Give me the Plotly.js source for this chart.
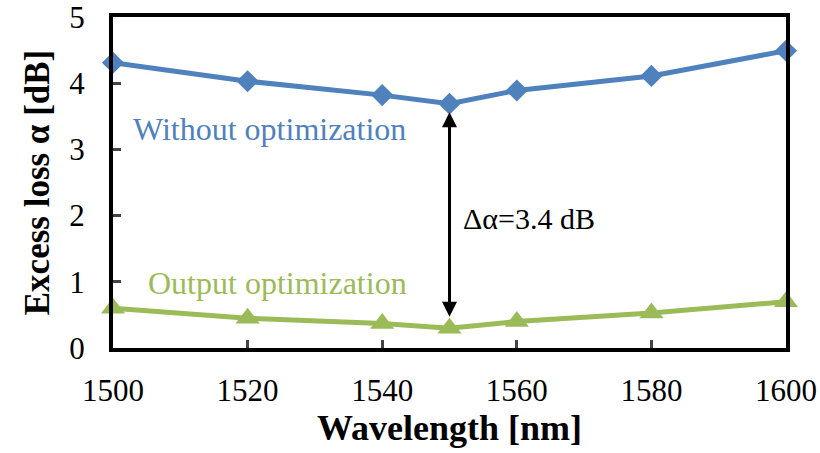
<!DOCTYPE html>
<html><head><meta charset="utf-8">
<script src="https://cdn.plot.ly/plotly-3.0.1.min.js"></script>
<style>html,body{margin:0;padding:0;background:#fff}</style>
</head><body><div id="chart" style="width:820px;height:453px"></div>
<script>
const wavelengths = [1500, 1520, 1540, 1550, 1560, 1580, 1600];
const withoutOpt = [4.31, 4.03, 3.82, 3.69, 3.89, 4.11, 4.49];
const outputOpt = [0.60, 0.45, 0.37, 0.30, 0.40, 0.53, 0.70];
const xTicks = [1500, 1520, 1540, 1560, 1580, 1600];
const yTicks = [0, 1, 2, 3, 4, 5];

const serif = "Liberation Serif, Times New Roman, serif";
const traces = [
  {x: wavelengths, y: withoutOpt, mode: 'lines+markers', cliponaxis: false,
   line: {color: '#4F81BD', width: 5}, marker: {symbol: 'diamond', size: 17, color: '#4F81BD'}},
  {x: wavelengths, y: outputOpt, mode: 'lines+markers', cliponaxis: false,
   line: {color: '#9BBB59', width: 5}, marker: {symbol: 'triangle-up', size: 21, color: '#9BBB59'}}
];
const layout = {
  width: 820, height: 453, showlegend: false,
  margin: {l: 113, r: 34, t: 17, b: 105},
  paper_bgcolor: '#fff', plot_bgcolor: '#fff',
  font: {family: serif, color: '#000', size: 22},
  xaxis: {range: [1500, 1600], tickvals: xTicks, ticks: 'inside', ticklen: 8, tickwidth: 3,
    showline: true, mirror: true, linewidth: 4, linecolor: '#000', showgrid: false, zeroline: false,
    tickfont: {family: serif, size: 31}, ticklabelstandoff: 12, ticklabeloverflow: 'allow',
    title: {text: '<b>Wavelength [nm]</b>', font: {family: serif, size: 36}, standoff: 8}},
  yaxis: {range: [0, 5], tickvals: yTicks, ticks: 'inside', ticklen: 8, tickwidth: 3,
    showline: true, mirror: true, linewidth: 4, linecolor: '#000', showgrid: false, zeroline: false,
    tickfont: {family: serif, size: 31}, ticklabelstandoff: 18, ticklabeloverflow: 'allow',
    title: {text: '<b>Excess loss α [dB]</b>', font: {family: serif, size: 35}, standoff: 10}},
  annotations: [
    {x: 1500, y: 3.31, xref: 'x', yref: 'y', xanchor: 'left', xshift: 18, showarrow: false,
     text: 'Without optimization', font: {family: serif, size: 32, color: '#4F81BD'}},
    {x: 1500, y: 0.98, xref: 'x', yref: 'y', xanchor: 'left', xshift: 33, showarrow: false,
     text: 'Output optimization', font: {family: serif, size: 32, color: '#9BBB59'}},
    {x: 1550, y: 1.96, xref: 'x', yref: 'y', xanchor: 'left', xshift: 11, showarrow: false,
     text: 'Δα=3.4 dB', font: {family: serif, size: 30, color: '#000'}},
    {x: 1550, y: 3.56, ax: 1550, ay: 0.45, xref: 'x', yref: 'y', axref: 'x', ayref: 'y',
     text: '', showarrow: true, arrowhead: 2, startarrowhead: 2, arrowside: 'end+start',
     arrowwidth: 3, arrowsize: 1, arrowcolor: '#000'}
  ]
};
Plotly.newPlot('chart', traces, layout, {displayModeBar: false, staticPlot: true});
</script></body></html>
